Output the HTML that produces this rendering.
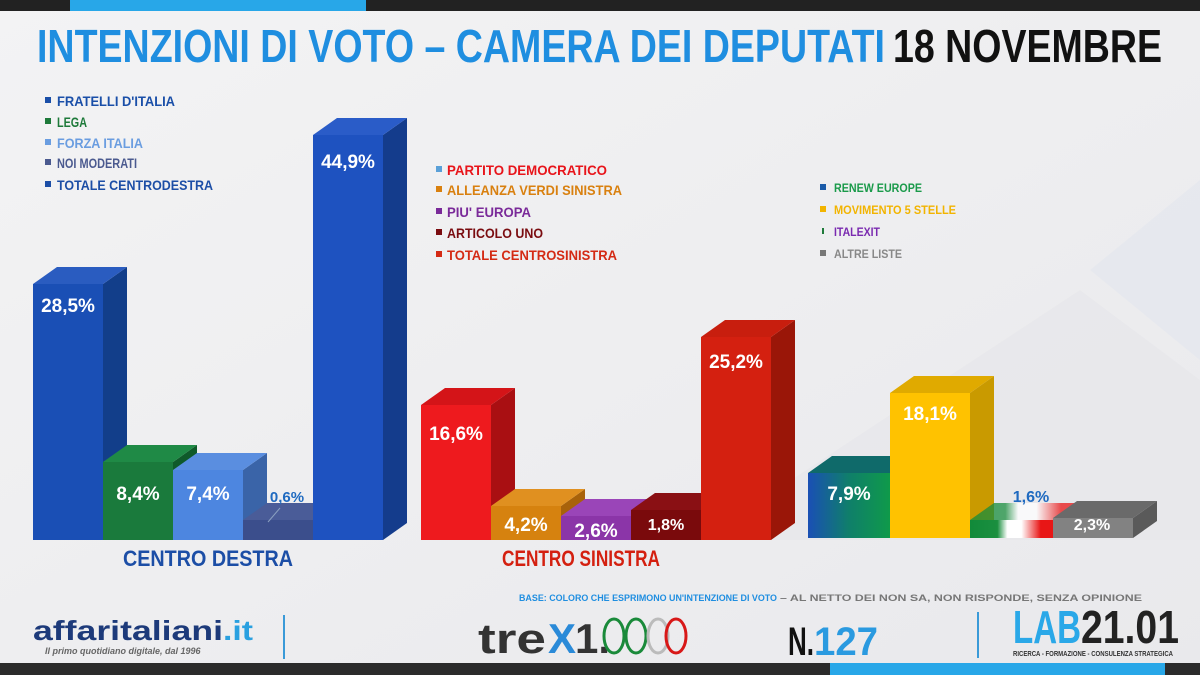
<!DOCTYPE html>
<html><head><meta charset="utf-8"><style>
html,body{margin:0;padding:0;width:1200px;height:675px;overflow:hidden;background:#efeff1}
text{font-family:"Liberation Sans Narrow","Liberation Sans",sans-serif;font-weight:bold}
</style></head><body>
<svg width="1200" height="675" viewBox="0 0 1200 675" xmlns="http://www.w3.org/2000/svg">
<defs>
<linearGradient id="bg" x1="0" y1="0" x2="1" y2="1"><stop offset="0" stop-color="#f3f3f4"/><stop offset="1" stop-color="#e9e9ec"/></linearGradient>
<linearGradient id="ren" x1="0" x2="1"><stop offset="0" stop-color="#1a4fb5"/><stop offset="0.5" stop-color="#0f7f6a"/><stop offset="1" stop-color="#0f9a4a"/></linearGradient>
<linearGradient id="ita" x1="0" x2="1"><stop offset="0" stop-color="#118a3a"/><stop offset="0.33" stop-color="#1b8f3f"/><stop offset="0.45" stop-color="#ffffff"/><stop offset="0.62" stop-color="#ffffff"/><stop offset="0.85" stop-color="#e81616"/><stop offset="1" stop-color="#e81616"/></linearGradient>
</defs>
<rect width="1200" height="675" fill="url(#bg)"/>
<polygon points="1090,270 1200,180 1200,360" fill="#e4e7ee" opacity="0.7"/>
<polygon points="700,540 1080,290 1200,380 1200,540" fill="#e6e6e9" opacity="0.6"/>
<!-- top bar -->
<rect x="0" y="0" width="1200" height="11" fill="#222"/>
<rect x="70" y="0" width="296" height="11" fill="#28a7e8"/>
<!-- bottom bar -->
<rect x="0" y="663" width="1200" height="12" fill="#2b2b2b"/>
<rect x="830" y="663" width="335" height="12" fill="#28a7e8"/>
<!-- title -->
<text x="37" y="62" font-size="46" fill="#1f8ee0" textLength="848" lengthAdjust="spacingAndGlyphs">INTENZIONI DI VOTO – CAMERA DEI DEPUTATI</text>
<text x="893" y="62" font-size="46" fill="#111" textLength="269" lengthAdjust="spacingAndGlyphs">18 NOVEMBRE</text>

<!-- legends -->
<g font-size="14">
<rect x="45" y="97" width="6" height="6" fill="#1a4fa8"/><text x="57" y="106" fill="#1a4fa8" textLength="118" lengthAdjust="spacingAndGlyphs">FRATELLI D'ITALIA</text>
<rect x="45" y="118" width="6" height="6" fill="#1e7a3a"/><text x="57" y="127" fill="#1e7a3a" textLength="30" lengthAdjust="spacingAndGlyphs">LEGA</text>
<rect x="45" y="139" width="6" height="6" fill="#6a9de0"/><text x="57" y="148" fill="#6a9de0" textLength="86" lengthAdjust="spacingAndGlyphs">FORZA ITALIA</text>
<rect x="45" y="159" width="6" height="6" fill="#4b5a8f"/><text x="57" y="168" fill="#4b5a8f" textLength="80" lengthAdjust="spacingAndGlyphs">NOI MODERATI</text>
<rect x="45" y="181" width="6" height="6" fill="#1c4ea6"/><text x="57" y="190" fill="#1c4ea6" textLength="156" lengthAdjust="spacingAndGlyphs">TOTALE CENTRODESTRA</text>

<rect x="436" y="166" width="6" height="6" fill="#5aa0d8"/><text x="447" y="175" fill="#e8141a" textLength="160" lengthAdjust="spacingAndGlyphs">PARTITO DEMOCRATICO</text>
<rect x="436" y="186" width="6" height="6" fill="#d9800f"/><text x="447" y="195" fill="#d9800f" textLength="175" lengthAdjust="spacingAndGlyphs">ALLEANZA VERDI SINISTRA</text>
<rect x="436" y="208" width="6" height="6" fill="#7a2a99"/><text x="447" y="217" fill="#7a2a99" textLength="84" lengthAdjust="spacingAndGlyphs">PIU' EUROPA</text>
<rect x="436" y="229" width="6" height="6" fill="#7a0c10"/><text x="447" y="238" fill="#7a0c10" textLength="96" lengthAdjust="spacingAndGlyphs">ARTICOLO UNO</text>
<rect x="436" y="251" width="6" height="6" fill="#d42a14"/><text x="447" y="260" fill="#d42a14" textLength="170" lengthAdjust="spacingAndGlyphs">TOTALE CENTROSINISTRA</text>
</g>
<g font-size="12">
<rect x="820" y="184" width="6" height="6" fill="#1a5aa8"/><text x="834" y="192" fill="#1a9a4a" textLength="88" lengthAdjust="spacingAndGlyphs">RENEW EUROPE</text>
<rect x="820" y="206" width="6" height="6" fill="#f2b400"/><text x="834" y="214" fill="#f2b400" textLength="122" lengthAdjust="spacingAndGlyphs">MOVIMENTO 5 STELLE</text>
<rect x="822" y="228" width="2" height="6" fill="#1e7a3a"/><text x="834" y="236" fill="#7a2ab0" textLength="46" lengthAdjust="spacingAndGlyphs">ITALEXIT</text>
<rect x="820" y="250" width="6" height="6" fill="#777"/><text x="834" y="258" fill="#888" textLength="68" lengthAdjust="spacingAndGlyphs">ALTRE LISTE</text>
</g>

<!-- bars: front rect, top, side (dx=24, dy=-17) -->
<g>
<!-- FdI -->
<polygon points="103,284 127,267 127,523 103,540" fill="#123e8a"/>
<polygon points="33,284 57,267 127,267 103,284" fill="#2a5cc0"/>
<rect x="33" y="284" width="70" height="256" fill="#1a4fb5"/>
<!-- Lega -->
<polygon points="173,462 197,445 197,523 173,540" fill="#0f5a2a"/>
<polygon points="103,462 127,445 197,445 173,462" fill="#1f8a46"/>
<rect x="103" y="462" width="70" height="78" fill="#1a7a3c"/>
<!-- FI -->
<polygon points="243,470 267,453 267,523 243,540" fill="#3a64a8"/>
<polygon points="173,470 197,453 267,453 243,470" fill="#5a8ee0"/>
<rect x="173" y="470" width="70" height="70" fill="#4d86e0"/>
<!-- NM -->
<polygon points="313,520 337,503 337,523 313,540" fill="#2d3c70"/>
<polygon points="243,520 267,503 337,503 313,520" fill="#4a5c98"/>
<rect x="243" y="520" width="70" height="20" fill="#3b4e8c"/>
<!-- Tot CD -->
<polygon points="383,135 407,118 407,523 383,540" fill="#143c8c"/>
<polygon points="313,135 337,118 407,118 383,135" fill="#2a5cc8"/>
<rect x="313" y="135" width="70" height="405" fill="#1e52c0"/>

<!-- PD -->
<polygon points="491,405 515,388 515,523 491,540" fill="#a90f12"/>
<polygon points="421,405 445,388 515,388 491,405" fill="#d41418"/>
<rect x="421" y="405" width="70" height="135" fill="#ee1a1e"/>
<!-- AVS -->
<polygon points="561,506 585,489 585,523 561,540" fill="#a8620a"/>
<polygon points="491,506 515,489 585,489 561,506" fill="#e09020"/>
<rect x="491" y="506" width="70" height="34" fill="#d6820f"/>
<!-- +E -->
<polygon points="631,516 655,499 655,523 631,540" fill="#5f2275"/>
<polygon points="561,516 585,499 655,499 631,516" fill="#9a45b8"/>
<rect x="561" y="516" width="70" height="24" fill="#8b35a8"/>
<!-- Art1 -->
<polygon points="701,510 725,493 725,523 701,540" fill="#50060a"/>
<polygon points="631,510 655,493 725,493 701,510" fill="#8a1014"/>
<rect x="631" y="510" width="70" height="30" fill="#7a0a0c"/>
<!-- Tot CS -->
<polygon points="771,337 795,320 795,523 771,540" fill="#9a1608"/>
<polygon points="701,337 725,320 795,320 771,337" fill="#c81e0e"/>
<rect x="701" y="337" width="70" height="203" fill="#d42010"/>

<!-- Renew -->
<polygon points="890,473 914,456 914,521 890,538" fill="#0c6a40"/>
<polygon points="808,473 832,456 914,456 890,473" fill="#0f6a6a"/>
<rect x="808" y="473" width="82" height="65" fill="url(#ren)"/>
<!-- M5S -->
<polygon points="970,393 994,376 994,521 970,538" fill="#c99a00"/>
<polygon points="890,393 914,376 994,376 970,393" fill="#e0aa00"/>
<rect x="890" y="393" width="80" height="145" fill="#ffc200"/>
<!-- Italexit -->
<polygon points="970,520 994,503 1077,503 1053,520" fill="url(#ita)" opacity="0.75"/>
<rect x="970" y="520" width="83" height="18" fill="url(#ita)"/>
<!-- Altre -->
<polygon points="1133,518 1157,501 1157,521 1133,538" fill="#5a5a5a"/>
<polygon points="1053,518 1077,501 1157,501 1133,518" fill="#6a6a6a"/>
<rect x="1053" y="518" width="80" height="20" fill="#828282"/>
</g>

<!-- value labels -->
<g font-size="19" fill="#fff" text-anchor="middle">
<text x="68" y="312">28,5%</text>
<text x="138" y="500">8,4%</text>
<text x="208" y="500">7,4%</text>
<text x="348" y="168">44,9%</text>
<text x="456" y="440">16,6%</text>
<text x="526" y="531">4,2%</text>
<text x="596" y="537">2,6%</text>
<text x="666" y="530" font-size="16">1,8%</text>
<text x="736" y="368">25,2%</text>
<text x="849" y="500">7,9%</text>
<text x="930" y="420">18,1%</text>
<text x="1092" y="530" font-size="16">2,3%</text>
</g>
<text x="287" y="502" font-size="15" fill="#1f6ac0" text-anchor="middle">0,6%</text>
<line x1="280" y1="508" x2="268" y2="522" stroke="#8aa0c0" stroke-width="1"/>
<text x="1031" y="502" font-size="16" fill="#1f6ac0" text-anchor="middle">1,6%</text>

<!-- group labels -->
<text x="208" y="566" font-size="22" fill="#1c4ea6" text-anchor="middle" textLength="170" lengthAdjust="spacingAndGlyphs">CENTRO DESTRA</text>
<text x="581" y="566" font-size="22" fill="#d42010" text-anchor="middle" textLength="158" lengthAdjust="spacingAndGlyphs">CENTRO SINISTRA</text>

<!-- footer -->
<text x="519" y="601" font-size="9.5" fill="#1f8ee0" textLength="258" lengthAdjust="spacingAndGlyphs">BASE: COLORO CHE ESPRIMONO UN'INTENZIONE DI VOTO</text>
<text x="780" y="601" font-size="9.5" fill="#777" font-weight="normal" textLength="362" lengthAdjust="spacingAndGlyphs">– AL NETTO DEI NON SA, NON RISPONDE, SENZA OPINIONE</text>
<text x="33" y="640" font-size="28" fill="#1d3a7a" font-family="Liberation Sans" textLength="190" lengthAdjust="spacingAndGlyphs">affaritaliani</text>
<text x="223" y="640" font-size="28" fill="#2aa0e0" font-family="Liberation Sans" textLength="30" lengthAdjust="spacingAndGlyphs">.it</text>
<text x="45" y="654" font-size="9" fill="#666" font-style="italic" font-weight="normal">Il primo quotidiano digitale, dal 1996</text>
<rect x="283" y="615" width="2" height="44" fill="#3a9ad8"/>
<text x="478" y="653" font-size="42" fill="#333" font-family="Liberation Sans" font-weight="normal" textLength="68" lengthAdjust="spacingAndGlyphs">tre</text>
<text x="548" y="653" font-size="42" fill="#2a8ad8" font-family="Liberation Sans" font-weight="normal">X</text>
<text x="575" y="653" font-size="42" fill="#333" font-family="Liberation Sans" font-weight="normal">1.</text>
<g fill="none" stroke-width="3">
<ellipse cx="614" cy="636" rx="10" ry="17" stroke="#1a8a3a"/>
<ellipse cx="636" cy="636" rx="10" ry="17" stroke="#1a8a3a"/>
<ellipse cx="658" cy="636" rx="10" ry="17" stroke="#bbb"/>
<ellipse cx="676" cy="636" rx="10" ry="17" stroke="#d81818"/>
</g>
<text x="788" y="655" font-size="40" fill="#111" textLength="26" lengthAdjust="spacingAndGlyphs">N.</text>
<text x="814" y="655" font-size="40" fill="#2a9ae0" textLength="64" lengthAdjust="spacingAndGlyphs">127</text>
<rect x="977" y="612" width="2" height="46" fill="#3a9ad8"/>
<text x="1013" y="643" font-size="46" fill="#2aa8e8" textLength="68" lengthAdjust="spacingAndGlyphs">LAB</text>
<text x="1081" y="643" font-size="46" fill="#222" textLength="98" lengthAdjust="spacingAndGlyphs">21.01</text>
<text x="1013" y="656" font-size="7" fill="#333" textLength="160" lengthAdjust="spacingAndGlyphs">RICERCA - FORMAZIONE - CONSULENZA STRATEGICA</text>
</svg>
</body></html>
